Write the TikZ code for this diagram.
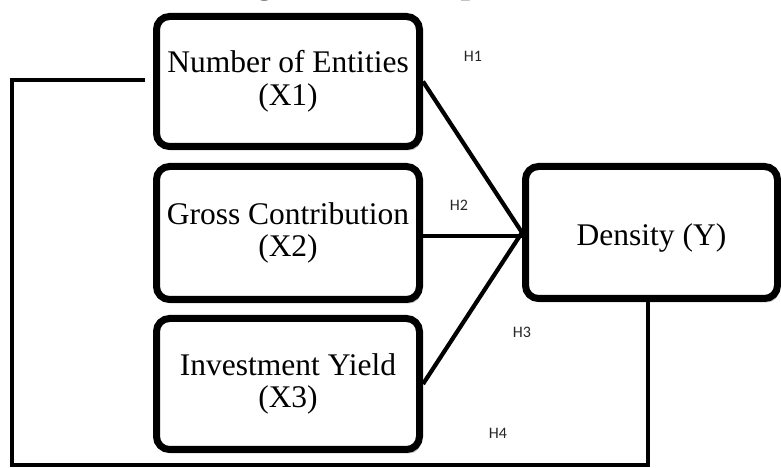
\documentclass[tikz,border=0pt]{standalone}
\usepackage{fontspec}
\setmainfont{Liberation Serif}
\newfontfamily\labelfont{Carlito}
\usetikzlibrary{shadows}
\tikzset{
  varbox/.style={draw=black, fill=white, line width=7pt, rounded corners=13pt,
    align=center, inner sep=0pt,
    font=\fontsize{31.5}{32.5}\selectfont,
    drop shadow={shadow xshift=2pt, shadow yshift=-4pt, fill=black, opacity=0.28}},
  path1/.style={line width=4.2pt},
  fbline/.style={line width=3.2pt},
  hlabel/.style={font=\labelfont\fontsize{16}{16}\selectfont, text=black!85, inner sep=0pt},
}
\begin{document}
\begin{tikzpicture}[x=1pt,y=1pt]
\useasboundingbox (0,0) rectangle (781,468);
\clip (0,0) rectangle (781,468);
% clipped caption (only descenders visible)
\node[anchor=base west, inner sep=0pt, font=\bfseries\fontsize{34}{34}\selectfont] (title) at (226,474.5) {Figure 1: Conceptual Framework};
% boxes
\node[varbox, minimum width=263pt, minimum height=130pt] (x1) at (288,386.5) {Number of Entities\\(X1)};
\node[varbox, minimum width=263pt, minimum height=133pt] (x2) at (288,235) {Gross Contribution\\(X2)};
\node[varbox, minimum width=263pt, minimum height=131pt] (x3) at (288,84) {Investment Yield\\(X3)};
\node[varbox, minimum width=252pt, minimum height=132pt, text height=33pt] (y) at (651.5,235.5) {Density (Y)};
% connectors
\draw[path1] (x1.east) -- (y.west);
\draw[path1] (x2.east |- 0,232) -- (y.west |- 0,232);
\draw[path1] (x3.east) -- (y.west);
% feedback line
\coordinate (fb1) at (12,3);
\coordinate (fb2) at (12,388);
\coordinate (fbend) at (145,388);
\draw[fbline] ([xshift=-3.5pt]y.south) |- (fb1) -- (fb2) -- (fbend);
% labels
\node[hlabel] (h1) at (473,412) {H1};
\node[hlabel] (h2) at (459,263) {H2};
\node[hlabel] (h3) at (522,136) {H3};
\node[hlabel] (h4) at (498,35) {H4};
\end{tikzpicture}
\end{document}
